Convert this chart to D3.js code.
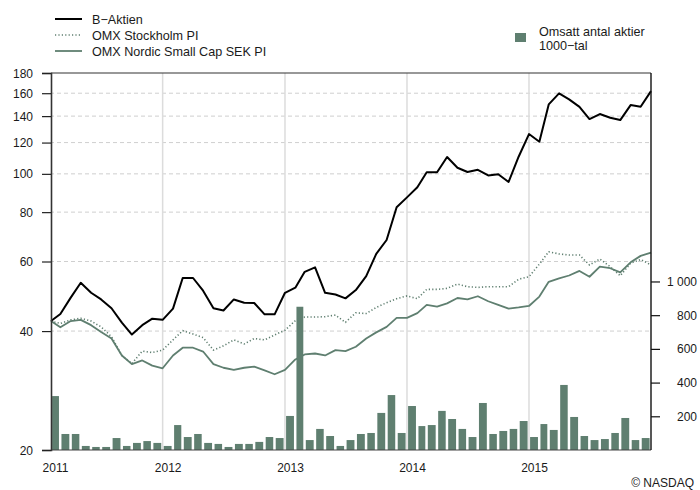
<!DOCTYPE html>
<html><head><meta charset="utf-8">
<script src="https://cdn.jsdelivr.net/npm/d3@7"></script>
<style>body{margin:0;background:#fff}svg{display:block}text{font-family:"Liberation Sans",Arial,sans-serif;fill:#1a1a1a}</style>
</head><body><svg id="c" width="700" height="490"></svg>
<script>
// Monthly closing values, Jan 2011 .. Dec 2015 (plotted at month end)
const firstMonth = "2011-01";
const bAktien = [42.4,44.2,48.6,53.0,50.0,48.1,45.7,42.0,39.2,41.4,43.0,42.7,45.6,54.5,54.5,50.6,45.7,45.1,48.1,47.2,47.1,44.1,44.1,50.0,51.5,56.5,58.0,50.0,49.5,48.4,50.8,55.1,62.7,68.0,82.3,87.2,92.5,100.9,100.9,110.3,103.6,101.1,102.4,99.1,99.8,95.4,110.5,126.1,120.6,149.9,159.9,154.4,147.8,137.6,141.7,138.7,136.8,149.3,147.8,162];
const omxStockholm = [42.4,41.8,42.7,43.1,42.4,41.0,38.7,34.7,33.1,35.6,35.3,35.8,38.0,40.1,39.3,38.5,35.8,36.7,38.0,37.1,38.3,38.0,39.1,40.2,42.5,43.4,43.4,43.5,43.9,42.1,44.5,44.3,45.9,47.2,48.3,49.1,48.3,51.0,51.0,51.3,52.6,51.8,51.6,51.8,51.8,51.8,54.1,54.9,59.1,63.5,62.7,62.3,62.3,58.8,60.9,58.2,55.2,59.4,60.7,58.8];
const smallCap = [42.4,40.9,42.4,42.7,41.4,39.8,38.3,34.7,33.0,33.7,32.7,32.2,34.7,36.3,36.3,35.5,33.0,32.3,31.9,32.3,32.5,31.8,31.1,31.9,33.9,34.9,35.1,34.7,35.8,35.6,36.5,38.3,39.7,41.0,43.2,43.2,44.4,46.6,46.1,47.0,48.5,48.1,49.0,47.6,46.6,45.6,45.9,46.3,48.9,53.3,54.4,55.3,56.8,54.9,58.2,57.7,56.3,59.7,62.0,63.2];
// Monthly traded volume (1000s), Feb 2011 .. Dec 2015
const firstVolumeMonth = "2011-02";
const volume = [320,95,95,24,18,18,71,24,42,53,42,
  24,148,77,95,42,36,18,36,36,48,77,71,
  202,850,59,125,83,24,59,95,101,220,326,101,
  261,142,148,232,184,125,77,279,95,113,125,172,
  77,154,119,386,196,83,59,65,101,190,59,71];
const leftTicks = [20,40,60,80,100,120,140,160,180];
const leftGrid = [40,60,80,100,120,140,160];
const rightTicks = [200,400,600,800,1000];
const yearTicks = ["2011","2012","2013","2014","2015"];
const seriesNames = ["B\u2212Aktien","OMX Stockholm PI","OMX Nordic Small Cap SEK PI"];
const volumeLabel = ["Omsatt antal aktier","1000\u2212tal"];

const green = "#5f7f70";
const svg = d3.select("#c");
const L = 51, R = 651, T = 73, B = 450;
const parse = d3.utcParse("%Y-%m");
const m0 = parse(firstMonth);
const lineDates = bAktien.map((_, i) => d3.utcMonth.offset(m0, i + 1));
const v0 = parse(firstVolumeMonth);
const volStarts = volume.map((_, i) => d3.utcMonth.offset(v0, i));

const x = d3.scaleUtc().domain([lineDates[0], lineDates[lineDates.length - 1]]).range([L, R]);
const y = d3.scaleLog().domain([20, 180]).range([B, T]);
const yv = d3.scaleLinear().domain([0, 2237]).range([B, T]);

// grid
const g = svg.append("g");
g.selectAll(".hg").data(leftGrid).join("line")
  .attr("x1", L).attr("x2", R).attr("y1", d => y(d)).attr("y2", d => y(d))
  .attr("stroke", "#cfcfcf").attr("stroke-width", 1).attr("stroke-dasharray", "4,3").attr("stroke-dashoffset", -6);
g.selectAll(".vg").data(yearTicks.slice(1)).join("line")
  .attr("x1", d => x(d3.utcParse("%Y")(d))).attr("x2", d => x(d3.utcParse("%Y")(d)))
  .attr("y1", T).attr("y2", B).attr("stroke", "#dcdcdc").attr("stroke-width", 1.5);

// bars
svg.append("g").selectAll("rect").data(volume).join("rect")
  .attr("x", (d, i) => x(volStarts[i]) + 1.1)
  .attr("width", (d, i) => x(d3.utcMonth.offset(volStarts[i], 1)) - x(volStarts[i]) - 2.5)
  .attr("y", d => yv(d)).attr("height", d => B - yv(d))
  .attr("fill", green);

// lines
const line = d3.line().x((d, i) => x(lineDates[i])).y(d => y(d));
svg.append("path").datum(smallCap).attr("d", line).attr("fill", "none")
  .attr("stroke", green).attr("stroke-width", 1.8).attr("stroke-linejoin", "round");
svg.append("path").datum(omxStockholm).attr("d", line).attr("fill", "none")
  .attr("stroke", green).attr("stroke-width", 1.6).attr("stroke-dasharray", "1.2,2.2");
svg.append("path").datum(bAktien).attr("d", line).attr("fill", "none")
  .attr("stroke", "#000").attr("stroke-width", 2).attr("stroke-linejoin", "round");

// frame
svg.append("line").attr("x1", L).attr("x2", R).attr("y1", T).attr("y2", T).attr("stroke", "#333").attr("stroke-width", 1.2);
svg.append("line").attr("x1", L).attr("x2", R).attr("y1", B).attr("y2", B).attr("stroke", "#444").attr("stroke-width", 1.2);

// left axis
const ax = svg.append("g").attr("transform", `translate(${L},0)`)
  .call(d3.axisLeft(y).tickValues(leftTicks).tickFormat(d3.format("d")).tickSize(9).tickPadding(9));
ax.select(".domain").attr("stroke", "#333").attr("stroke-width", 1.6);
ax.selectAll(".tick line").attr("stroke", "#222").attr("stroke-width", 1.2);
ax.selectAll("text").attr("font-size", 12).attr("fill", "#1a1a1a").attr("dy", "0.34em");

// right axis
const fmt = d => d >= 1000 ? d3.format(",")(d).replace(",", " ") : String(d);
const ar = svg.append("g").attr("transform", `translate(${R},0)`)
  .call(d3.axisRight(yv).tickValues(rightTicks).tickFormat(fmt).tickSize(9).tickPadding(8));
ar.select(".domain").attr("stroke", "#111").attr("stroke-width", 1.4).attr("d", `M0,${T}V${B}`);
ar.selectAll(".tick line").attr("stroke", "#111").attr("stroke-width", 1.2);
ar.selectAll("text").attr("font-size", 12).attr("fill", "#1a1a1a").attr("text-anchor", "end").attr("x", 46).attr("dy", "0.34em");

// year labels
svg.append("g").selectAll("text").data(yearTicks).join("text")
  .attr("x", (d, i) => i === 0 ? L + 4.5 : x(d3.utcParse("%Y")(d)) + 5.5)
  .attr("y", 471.5).attr("text-anchor", "middle").attr("font-size", 12).text(d => d);

// legend
const lg = svg.append("g");
const styles = [
  {stroke: "#000", w: 2, dash: null},
  {stroke: green, w: 1.6, dash: "1.2,2.2"},
  {stroke: green, w: 1.8, dash: null}
];
seriesNames.forEach((n, i) => {
  const yy = 19 + i * 16;
  lg.append("line").attr("x1", 55).attr("x2", 82).attr("y1", yy).attr("y2", yy)
    .attr("stroke", styles[i].stroke).attr("stroke-width", styles[i].w)
    .attr("stroke-dasharray", styles[i].dash);
  lg.append("text").attr("x", 92).attr("y", yy + 4.5).attr("font-size", 12.6).text(n);
});
lg.append("rect").attr("x", 515).attr("y", 33).attr("width", 11).attr("height", 9).attr("fill", green);
volumeLabel.forEach((t, i) => {
  lg.append("text").attr("x", 539).attr("y", 36 + i * 14).attr("font-size", 12.6).text(t);
});

svg.append("text").attr("x", 694).attr("y", 487).attr("text-anchor", "end").attr("font-size", 12).text("\u00a9 NASDAQ");
</script></body></html>
